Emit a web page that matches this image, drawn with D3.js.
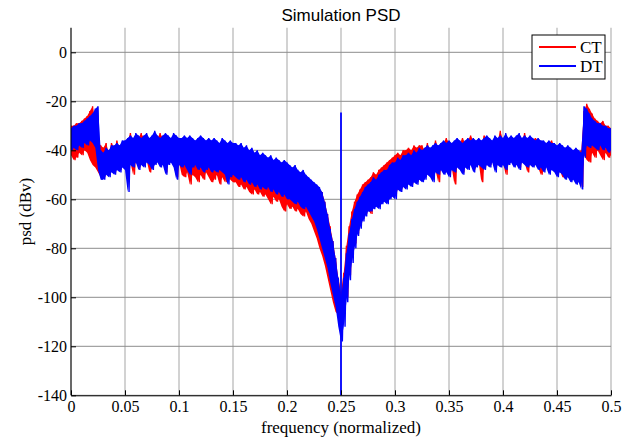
<!DOCTYPE html>
<html>
<head>
<meta charset="utf-8">
<script src="https://cdn.jsdelivr.net/npm/d3@7"></script>
<style>
body { margin: 0; background: #fff; }
</style>
</head>
<body>
<script>
const freqStep = 0.0025;

// DT (blue) upper / lower edge of the noise band
const dtHi = [
  -31, -30, -30, -29, -29, -28, -27, -26, -25, -23, -22,
  -40, -41, -39, -40, -38, -38, -37, -38, -36, -36,
  -35, -34, -35, -33, -34, -35, -34, -33, -35, -34, -32, -34, -35, -34, -33, -34, -35, -33, -34, -35,
  -35, -34, -35, -34, -35, -36, -35, -34, -35, -36, -35, -36, -35, -36, -37, -35, -36, -37, -36, -37,
  -37, -38, -37, -39, -38, -40, -39, -41, -40, -42, -41, -42, -43, -42, -44, -43, -44, -45, -44, -45,
  -46, -47, -46, -48, -49, -48, -50, -51, -52, -53, -54, -55,
  -57, -61, -66, -72, -77, -84, -92, -100, -92, -82, -74, -68, -64, -61, -59, -57, -55, -54,
  -53, -51, -52, -50, -49, -48, -48, -46, -45, -45, -43, -44, -42, -42, -41, -42, -40, -41, -39, -40,
  -39, -38, -39, -38, -37, -38, -37, -36, -37, -36, -37, -36, -35, -36, -37, -36, -35, -36, -35, -36,
  -35, -36, -35, -34, -35, -36, -34, -35, -34, -35, -33, -35, -34, -35, -34, -33, -35, -34, -35, -34,
  -35, -36, -35, -36, -36, -37, -36, -37, -37, -38, -37, -38, -39, -38, -39, -40, -39, -40, -41,
  -22, -23, -25, -27, -28, -29, -29, -30, -30, -31, -31
];
const dtLo = [
  -40, -39, -40, -38, -39, -37, -38, -36, -37, -39, -48,
  -52, -52, -50, -51, -49, -50, -48, -49, -47, -48,
  -57, -46, -47, -45, -48, -46, -47, -45, -46, -48, -46, -45, -47, -46, -50, -46, -45, -47, -52, -46,
  -47, -46, -48, -50, -47, -46, -48, -47, -49, -48, -47, -49, -48, -49, -48, -49, -50, -54, -51, -50,
  -51, -52, -51, -53, -52, -54, -53, -55, -54, -56, -55, -56, -55, -57, -56, -58, -57, -59, -58, -60,
  -60, -61, -62, -61, -63, -64, -63, -65, -67, -69, -72, -76,
  -80, -84, -88, -94, -99, -104, -112, -118, -112, -102, -93, -86, -80, -75, -72, -69, -67, -65,
  -65, -64, -63, -64, -62, -61, -62, -60, -59, -60, -56, -57, -55, -56, -54, -55, -53, -54, -52, -53,
  -52, -50, -51, -53, -49, -50, -48, -50, -49, -51, -48, -49, -47, -48, -50, -47, -48, -46, -49, -47,
  -46, -47, -48, -46, -47, -45, -49, -46, -47, -46, -48, -46, -45, -47, -46, -48, -45, -46, -47, -46,
  -47, -46, -48, -47, -49, -47, -50, -48, -49, -51, -49, -50, -52, -51, -53, -52, -54, -53, -56,
  -43, -38, -39, -38, -39, -40, -38, -40, -39, -41, -40
];

// CT (red) upper / lower edge
const ctHi = [
  -30, -30, -29, -29, -28, -27, -26, -24, -22, -28, -36,
  -38, -39, -37, -41, -37, -39, -36, -39, -37, -37,
  -36, -33, -36, -34, -35, -33, -35, -34, -36, -35, -33, -35, -33, -35, -34, -35, -36, -34, -35, -36,
  -36, -35, -36, -35, -36, -37, -36, -35, -36, -37, -36, -37, -36, -37, -38, -37, -37, -38, -37, -38,
  -38, -39, -38, -40, -39, -41, -40, -42, -41, -43, -42, -43, -44, -43, -45, -44, -45, -46, -45, -46,
  -47, -48, -47, -49, -50, -49, -51, -52, -53, -54, -55, -56,
  -57, -61, -66, -71, -77, -84, -92, -98, -90, -79, -71, -65, -61, -58, -56, -54, -53, -52,
  -51, -49, -50, -48, -47, -46, -45, -44, -43, -42, -41, -42, -40, -40, -39, -40, -38, -39, -38, -38,
  -40, -37, -40, -39, -36, -39, -38, -37, -35, -37, -38, -37, -36, -37, -35, -37, -36, -34, -36, -37,
  -36, -37, -34, -35, -36, -37, -35, -36, -32, -36, -34, -36, -35, -36, -35, -34, -36, -33, -36, -35,
  -36, -35, -36, -37, -37, -38, -37, -36, -38, -39, -38, -39, -40, -39, -40, -41, -40, -41, -40,
  -24, -21, -23, -25, -27, -28, -29, -28, -30, -30, -31
];
const ctLo = [
  -42, -44, -43, -41, -42, -40, -41, -44, -46, -47, -49,
  -51, -51, -49, -50, -48, -49, -47, -48, -46, -47,
  -47, -45, -50, -44, -47, -45, -46, -44, -49, -47, -45, -44, -46, -45, -49, -45, -44, -46, -51, -45,
  -50, -51, -49, -54, -50, -51, -53, -50, -52, -49, -51, -53, -52, -50, -54, -51, -53, -50, -52, -53,
  -53, -55, -54, -56, -55, -57, -58, -56, -58, -57, -59, -58, -60, -62, -59, -61, -60, -63, -65, -62,
  -64, -63, -65, -64, -66, -67, -65, -68, -70, -73, -76, -80,
  -83, -87, -92, -97, -102, -106, -107, -107, -106, -100, -91, -84, -78, -74, -71, -68, -66, -64,
  -66, -63, -62, -63, -61, -60, -61, -59, -58, -58, -56, -56, -55, -55, -53, -54, -52, -53, -52, -52,
  -51, -49, -50, -52, -48, -53, -47, -49, -48, -50, -47, -54, -46, -47, -49, -46, -47, -45, -48, -46,
  -45, -53, -47, -45, -46, -44, -48, -45, -46, -45, -50, -45, -44, -46, -45, -47, -44, -45, -49, -45,
  -46, -45, -47, -50, -48, -46, -49, -47, -48, -50, -48, -51, -51, -50, -52, -51, -53, -52, -55,
  -42, -44, -45, -41, -43, -40, -42, -44, -41, -43, -42
];

// the tone of DT at fs/4
const toneFreq = 0.25;
const toneTop = -24.6;

const xTicks = [0, 0.05, 0.1, 0.15, 0.2, 0.25, 0.3, 0.35, 0.4, 0.45, 0.5];
const yTicks = [0, -20, -40, -60, -80, -100, -120, -140];
const seriesNames = ["CT", "DT"];
const seriesColors = ["#ff0000", "#0000ff"];

const W = 631, H = 441;
const serif = "'Liberation Serif', 'Times New Roman', serif";

const svg = d3.select("body").append("svg")
  .attr("width", W).attr("height", H);

const x = d3.scaleLinear().domain([0, 0.5]).range([71, 611]);
const y = d3.scaleLinear().domain([-140, 10]).range([395.3, 27.8]);

svg.append("defs").append("clipPath").attr("id", "plot")
  .append("rect")
  .attr("x", x(0)).attr("y", y(10))
  .attr("width", x(0.5) - x(0)).attr("height", y(-140) - y(10));

// grid
svg.append("g").selectAll("line")
  .data(xTicks)
  .enter().append("line")
  .attr("x1", d => x(d)).attr("x2", d => x(d))
  .attr("y1", y(10)).attr("y2", y(-140))
  .attr("stroke", "#b4b4b4").attr("stroke-width", 1.2);

svg.append("g").selectAll("line")
  .data(yTicks)
  .enter().append("line")
  .attr("x1", x(0)).attr("x2", x(0.5))
  .attr("y1", d => y(d)).attr("y2", d => y(d))
  .attr("stroke", "#8c8c8c").attr("stroke-width", 1);

// noise bands
const plot = svg.append("g").attr("clip-path", "url(#plot)");

function drawSeries(hi, lo, color) {
  const band = d3.area()
    .x((d, i) => x(i * freqStep))
    .y0((d, i) => y(lo[i]))
    .y1(d => y(d));
  plot.append("path")
    .attr("d", band(hi))
    .attr("fill", color);

  // zig-zag between the two edges so the spikes look like the raw trace
  const pts = [];
  hi.forEach((v, i) => {
    pts.push([i * freqStep, v]);
    pts.push([i * freqStep + freqStep / 2, lo[i]]);
  });
  const line = d3.line().x(d => x(d[0])).y(d => y(d[1]));
  plot.append("path")
    .attr("d", line(pts))
    .attr("fill", "none")
    .attr("stroke", color)
    .attr("stroke-width", 1.4);
}

drawSeries(ctHi, ctLo, seriesColors[0]);
drawSeries(dtHi, dtLo, seriesColors[1]);

plot.append("line")
  .attr("x1", x(toneFreq)).attr("x2", x(toneFreq))
  .attr("y1", y(toneTop)).attr("y2", y(-140))
  .attr("stroke", seriesColors[1]).attr("stroke-width", 1.8);

// axes (MATLAB style, ticks inside, plain hyphen minus)
const xAxis = svg.append("g")
  .attr("transform", `translate(0,${y(-140)})`)
  .call(d3.axisBottom(x).tickValues(xTicks).tickFormat(d => String(d))
    .tickSizeInner(-5).tickSizeOuter(0).tickPadding(5));
const yAxis = svg.append("g")
  .attr("transform", `translate(${x(0)},0)`)
  .call(d3.axisLeft(y).tickValues(yTicks).tickFormat(d => String(d))
    .tickSizeInner(-5).tickSizeOuter(0).tickPadding(4));

[xAxis, yAxis].forEach(g => {
  g.select(".domain").attr("stroke", "#000");
  g.selectAll(".tick line").attr("stroke", "#000");
  g.selectAll("text")
    .attr("fill", "#000")
    .style("font-family", serif)
    .style("font-size", "16px");
});
yAxis.select(".domain").attr("d", `M0,${y(10)}V${y(-140)}`);

// titles
svg.append("text")
  .attr("x", (x(0) + x(0.5)) / 2).attr("y", 21)
  .attr("text-anchor", "middle")
  .style("font-family", "'Liberation Sans', Arial, sans-serif")
  .style("font-size", "17px")
  .text("Simulation PSD");

svg.append("text")
  .attr("x", (x(0) + x(0.5)) / 2).attr("y", 433)
  .attr("text-anchor", "middle")
  .style("font-family", serif)
  .style("font-size", "17px")
  .text("frequency (normalized)");

svg.append("text")
  .attr("transform", `translate(31,${(y(10) + y(-140)) / 2}) rotate(-90)`)
  .attr("text-anchor", "middle")
  .style("font-family", serif)
  .style("font-size", "17px")
  .text("psd (dBv)");

// legend
const legend = svg.append("g").attr("transform", "translate(532,35)");
legend.append("rect")
  .attr("width", 73).attr("height", 44)
  .attr("fill", "#fff").attr("stroke", "#000").attr("stroke-width", 1);
const item = legend.selectAll("g.item")
  .data(seriesNames)
  .enter().append("g")
  .attr("class", "item")
  .attr("transform", (d, i) => `translate(0,${12 + i * 19})`);
item.append("line")
  .attr("x1", 7).attr("x2", 44)
  .attr("stroke", (d, i) => seriesColors[i]).attr("stroke-width", 2);
item.append("text")
  .attr("x", 48).attr("y", 6)
  .style("font-family", serif)
  .style("font-size", "17px")
  .text(d => d);
</script>
</body>
</html>
